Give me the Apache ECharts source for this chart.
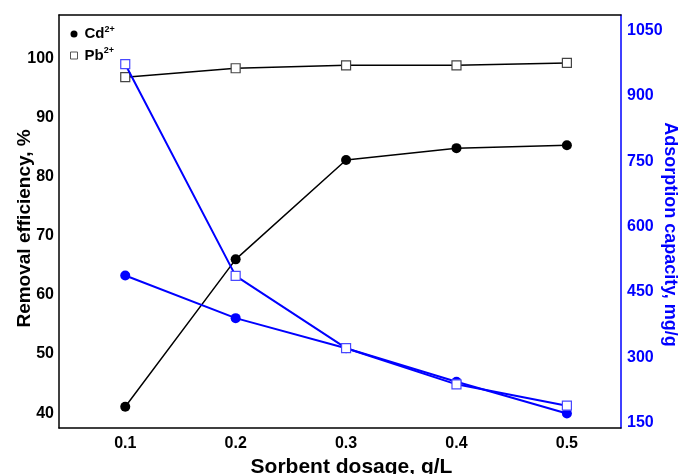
<!DOCTYPE html>
<html>
<head>
<meta charset="utf-8">
<script src="https://cdn.jsdelivr.net/npm/echarts@6/dist/echarts.min.js"></script>
<style>
  html, body { margin: 0; padding: 0; background: #fff; }
  #chart { width: 681px; height: 474px; }
</style>
</head>
<body>
<div id="chart"></div>
<script>
var dosage = [0.1, 0.2, 0.3, 0.4, 0.5];
var cdRemoval = [41.1, 66.0, 82.8, 84.8, 85.3];
var pbRemoval = [96.8, 98.3, 98.8, 98.8, 99.2];
var cdCapacity = [488, 390, 321, 244, 171];
var pbCapacity = [973, 487, 321, 238, 189];

var xTicks = [0.1, 0.2, 0.3, 0.4, 0.5];
var leftTicks = [40, 50, 60, 70, 80, 90, 100];
var rightTicks = [150, 300, 450, 600, 750, 900, 1050];

var font = '"Liberation Sans", Arial, sans-serif';
var blue = '#0000ff';

function pairs(ys) {
    return dosage.map(function (x, i) { return [x, ys[i]]; });
}

var chart = echarts.init(document.getElementById('chart'));

chart.setOption({
    animation: false,
    backgroundColor: '#fff',
    grid: { left: 59, right: 60, top: 15, bottom: 46, outerBoundsMode: 'none', containLabel: false },
    legend: {
        orient: 'vertical',
        left: 65,
        top: 20,
        itemWidth: 7,
        itemHeight: 7,
        itemGap: 5,
        data: [
            { name: 'Cd', icon: 'circle', itemStyle: { color: '#000', borderWidth: 0 } },
            { name: 'Pb', icon: 'rect', itemStyle: { color: '#fff', borderColor: '#555', borderWidth: 1 } }
        ],
        formatter: function (name) { return '{b|' + name + '}{s|2+}'; },
        textStyle: {
            rich: {
                b: { fontFamily: font, fontSize: 15, fontWeight: 'bold', color: '#000', lineHeight: 18, padding: [0, 0, 0, 2] },
                s: { fontFamily: font, fontSize: 9, fontWeight: 'bold', color: '#000', padding: [0, 0, 9, 0] }
            }
        }
    },
    xAxis: [{
        type: 'value',
        min: 0.04,
        max: 0.549,
        position: 'bottom',
        name: 'Sorbent dosage, g/L',
        nameLocation: 'middle',
        nameGap: 29,
        nameMoveOverlap: false,
        nameTextStyle: { fontFamily: font, fontSize: 21, fontWeight: 'bold', color: '#000', padding: [0, 0, 0, 23] },
        axisLine: { show: true, onZero: false, lineStyle: { color: '#000', width: 1.5 } },
        axisTick: { show: false },
        splitLine: { show: false },
        axisLabel: {
            customValues: xTicks,
            formatter: function (v) { return v.toFixed(1); },
            fontFamily: font, fontSize: 16, fontWeight: 'bold', color: '#000', margin: 8
        }
    }, {
        type: 'value',
        min: 0.04,
        max: 0.549,
        position: 'top',
        axisLine: { show: true, onZero: false, lineStyle: { color: '#000', width: 1.5 } },
        axisTick: { show: false },
        axisLabel: { show: false },
        splitLine: { show: false }
    }],
    yAxis: [{
        type: 'value',
        position: 'left',
        min: 37.5,
        max: 107.3,
        name: 'Removal efficiency, %',
        nameLocation: 'middle',
        nameGap: 25,
        nameMoveOverlap: false,
        nameTextStyle: { fontFamily: font, fontSize: 19, fontWeight: 'bold', color: '#000', padding: [0, 14, 0, 0] },
        axisLine: { show: true, onZero: false, lineStyle: { color: '#000', width: 1.5 } },
        axisTick: { show: false },
        splitLine: { show: false },
        axisLabel: {
            customValues: leftTicks,
            formatter: function (v) { return String(v); },
            fontFamily: font, fontSize: 16, fontWeight: 'bold', color: '#000', margin: 5
        }
    }, {
        type: 'value',
        position: 'right',
        min: 137.8,
        max: 1086,
        name: 'Adsorption capacity, mg/g',
        nameLocation: 'middle',
        nameRotate: -90,
        nameGap: 40,
        nameMoveOverlap: false,
        nameTextStyle: { fontFamily: font, fontSize: 18, fontWeight: 'bold', color: blue, padding: [0, 0, 0, 26] },
        axisLine: { show: true, onZero: false, lineStyle: { color: blue, width: 1.5 } },
        axisTick: { show: false },
        splitLine: { show: false },
        axisLabel: {
            customValues: rightTicks,
            formatter: function (v) { return String(v); },
            fontFamily: font, fontSize: 16, fontWeight: 'bold', color: blue, margin: 6
        }
    }],
    series: [{
        name: 'Cd',
        type: 'line',
        yAxisIndex: 0,
        data: pairs(cdRemoval),
        symbol: 'circle',
        symbolSize: 10,
        lineStyle: { color: '#000', width: 1.5 },
        itemStyle: { color: '#000', borderWidth: 0 },
        z: 2
    }, {
        name: 'Pb',
        type: 'line',
        yAxisIndex: 0,
        data: pairs(pbRemoval),
        symbol: 'rect',
        symbolSize: 9,
        lineStyle: { color: '#000', width: 1.5 },
        itemStyle: { color: '#fff', borderColor: '#444', borderWidth: 1.2 },
        z: 3
    }, {
        name: 'Cd capacity',
        type: 'line',
        yAxisIndex: 1,
        data: pairs(cdCapacity),
        symbol: 'circle',
        symbolSize: 10,
        lineStyle: { color: blue, width: 2 },
        itemStyle: { color: blue, borderWidth: 0 },
        z: 4
    }, {
        name: 'Pb capacity',
        type: 'line',
        yAxisIndex: 1,
        data: pairs(pbCapacity),
        symbol: 'rect',
        symbolSize: 9,
        lineStyle: { color: blue, width: 2 },
        itemStyle: { color: '#fff', borderColor: '#4848ff', borderWidth: 1.2 },
        z: 5
    }]
});
</script>
</body>
</html>
